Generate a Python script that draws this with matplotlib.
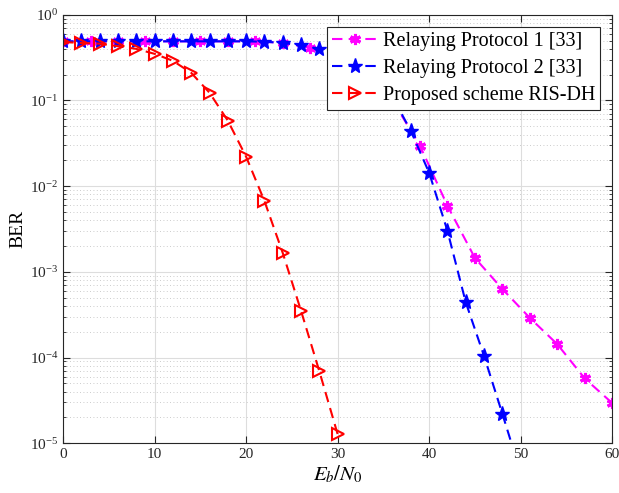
import matplotlib
matplotlib.use("Agg")
import matplotlib.pyplot as plt
import numpy as np

# SNR points (dB)
snr_p1 = [0, 3, 6, 9, 12, 15, 18, 21, 24, 27, 30, 33, 36, 39, 42, 45, 48, 51, 54, 57, 60]
ber_p1 = [0.49, 0.49, 0.49, 0.49, 0.49, 0.49, 0.49, 0.49, 0.47, 0.41, 0.36, 0.24, 0.10,
          0.0295, 0.0059, 0.00145, 6.3e-4, 2.9e-4, 1.43e-4, 5.7e-5, 2.94e-5]

snr_p2 = [0, 2, 4, 6, 8, 10, 12, 14, 16, 18, 20, 22, 24, 26, 28, 30, 32, 34, 36, 38,
          40, 42, 44, 46, 48, 50]
ber_p2 = [0.49, 0.49, 0.49, 0.49, 0.49, 0.49, 0.49, 0.49, 0.49, 0.49, 0.49, 0.485,
          0.47, 0.44, 0.40, 0.35, 0.29, 0.20, 0.11, 0.044, 0.0143, 0.0030, 4.4e-4,
          1.04e-4, 2.2e-5, 4.5e-6]

snr_ris = [0, 2, 4, 6, 8, 10, 12, 14, 16, 18, 20, 22, 24, 26, 28, 30]
ber_ris = [0.48, 0.47, 0.46, 0.43, 0.40, 0.35, 0.29, 0.21, 0.123, 0.058, 0.022,
           0.0067, 0.00166, 3.5e-4, 6.9e-5, 1.27e-5]

labels = ['Relaying Protocol 1 [33]', 'Relaying Protocol 2 [33]', 'Proposed scheme RIS-DH']

plt.rcParams['font.family'] = ['Liberation Serif', 'DejaVu Serif']
plt.rcParams['mathtext.fontset'] = 'stix'

fig = plt.figure(figsize=(6.19, 4.93), dpi=100)
ax = fig.add_axes([0.102, 0.101, 0.887, 0.869])

dash = (0, (5, 3))
ax.semilogy(snr_p1, ber_p1, color='magenta', linestyle=dash, lw=1.5,
            marker=(6, 2, 0), markersize=8, markeredgewidth=2.2, label=labels[0])
ax.semilogy(snr_p2, ber_p2, color='blue', linestyle=dash, lw=1.5,
            marker='*', markersize=11, label=labels[1])
ax.semilogy(snr_ris, ber_ris, color='red', linestyle=dash, lw=1.5,
            marker='>', markersize=8, markerfacecolor='none', markeredgewidth=1.5,
            label=labels[2])

ax.set_xlim(0, 60)
ax.set_ylim(1e-5, 1)
ax.set_xticks(np.arange(0, 61, 10))
ax.grid(True, which='major', color='#dddddd', lw=0.8, linestyle='-')
ax.grid(True, which='minor', color='#bbbbbb', lw=0.6, linestyle=(0, (1, 3)))
ax.tick_params(which='both', direction='in', top=True, right=True,
               labelsize=11, colors='#262626')
ax.tick_params(which='major', length=5)
ax.tick_params(which='minor', length=2.5)
for s in ax.spines.values():
    s.set_color('#262626')

ax.set_xlabel(r'$E_b/N_0$', fontsize=15, labelpad=2)
ax.set_ylabel('BER', fontsize=14, labelpad=2)

leg = ax.legend(loc='upper right', fontsize=14.5, fancybox=False, framealpha=1,
                edgecolor='#262626', borderpad=0.25, labelspacing=0.4,
                handlelength=2.2, handletextpad=0.3, borderaxespad=0.6)
leg.set_zorder(5)
leg.get_frame().set_linewidth(0.8)

fig.savefig('out.png', dpi=100)
